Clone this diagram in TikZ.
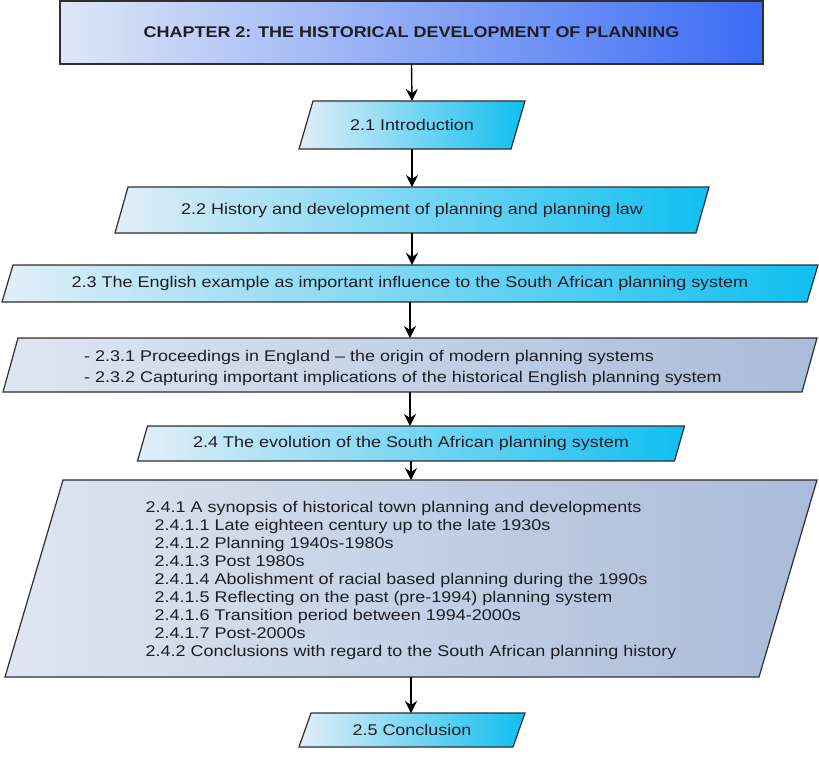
\documentclass[tikz,border=0pt]{standalone}
\usepackage{fontspec}
\setmainfont{Liberation Sans}[FakeStretch=1.16]
\usetikzlibrary{arrows.meta}

\definecolor{edge}{HTML}{2E2E33}
\definecolor{ink}{HTML}{1E1E26}
\definecolor{titleL}{HTML}{DFE7F6}
\definecolor{titleR}{HTML}{3B6BF5}
\definecolor{cyanL}{HTML}{E2EEF7}
\definecolor{cyanR}{HTML}{10BFF0}
\definecolor{greyL}{HTML}{DFE6F1}
\definecolor{greyR}{HTML}{A9BBD9}

\tikzset{
  frame/.style={draw=none, inner sep=0pt, outer sep=0pt},
  lbl/.style={inner sep=0pt, text=ink, font=\fontsize{15.5}{18}\selectfont},
  arr/.style={draw=black, line width=1.4pt,
    -{Stealth[length=12pt, width=12pt, inset=4pt]}},
  outline/.style={draw=edge, line width=1.2pt},
}

% slanted box: name, cx, cy, mean width, height, slant, left colour, right colour
\newcommand\slantbox[8]{%
  \node[frame, minimum width=#4pt, minimum height=#5pt] (#1) at (#2,#3) {};
  \path[outline, left color=#7, right color=#8]
    ([xshift=0.5*#6pt]#1.north west) -- ([xshift=0.5*#6pt]#1.north east)
    -- ([xshift=-0.5*#6pt]#1.south east) -- ([xshift=-0.5*#6pt]#1.south west)
    -- cycle;
}

\begin{document}
\begin{tikzpicture}[x=1pt, y=-1pt]
\useasboundingbox (0,0) rectangle (819,758);

% chapter heading
\node[outline, inner sep=0pt, minimum width=703pt, minimum height=63pt,
      left color=titleL, right color=titleR, text=ink,
      font=\fontsize{15.5}{18}\selectfont\bfseries] (ch) at (411.5,32.5)
  {CHAPTER 2: THE HISTORICAL DEVELOPMENT OF PLANNING};

% section boxes
\slantbox{s21}{412}{125}{212}{48}{14}{cyanL}{cyanR}
\node[lbl] (t21) at (s21) {2.1 Introduction};

\slantbox{s22}{412}{210}{581}{46}{13}{cyanL}{cyanR}
\node[lbl] (t22) at (s22) {2.2 History and development of planning and planning law};

\slantbox{s23}{410}{283.5}{805}{37}{11}{cyanL}{cyanR}
\node[lbl] (t23) at (s23) {2.3 The English example as important influence to the South African planning system};

\slantbox{s23x}{410}{365}{799}{54}{15}{greyL}{greyR}
\node[lbl, align=left, font=\fontsize{15.5}{21}\selectfont,
      xshift=-7pt, yshift=-2.5pt] (t23x) at (s23x)
  {- 2.3.1 Proceedings in England – the origin of modern planning systems\\
   - 2.3.2 Capturing important implications of the historical English planning system};

\slantbox{s24}{411}{443.5}{537}{35}{10}{cyanL}{cyanR}
\node[lbl] (t24) at (s24) {2.4 The evolution of the South African planning system};

\slantbox{s24x}{411}{578.5}{754}{197}{58}{greyL}{greyR}
\node[lbl, align=left, yshift=-1.5pt] (t24x) at (s24x)
  {2.4.1 A synopsis of historical town planning and developments\\
   \hspace*{9pt}2.4.1.1 Late eighteen century up to the late 1930s\\
   \hspace*{9pt}2.4.1.2 Planning 1940s-1980s\\
   \hspace*{9pt}2.4.1.3 Post 1980s\\
   \hspace*{9pt}2.4.1.4 Abolishment of racial based planning during the 1990s\\
   \hspace*{9pt}2.4.1.5 Reflecting on the past (pre-1994) planning system\\
   \hspace*{9pt}2.4.1.6 Transition period between 1994-2000s\\
   \hspace*{9pt}2.4.1.7 Post-2000s\\
   2.4.2 Conclusions with regard to the South African planning history};

\slantbox{s25}{412}{730}{214}{34}{12}{cyanL}{cyanR}
\node[lbl] (t25) at (s25) {2.5 Conclusion};

% flow
\draw[arr] (ch.south) -- (s21.north);
\draw[arr] (s21.south) -- (s22.north);
\draw[arr] (s22.south) -- (s22.south |- s23.north);
\draw[arr] (s23.south) -- (s23.south |- s23x.north);
\draw[arr] (s23x.south) -- (s23x.south |- s24.north);
\draw[arr] (s24.south) -- (s24.south |- s24x.north);
\draw[arr] (s24x.south) -- (s24x.south |- s25.north);
\end{tikzpicture}
\end{document}
